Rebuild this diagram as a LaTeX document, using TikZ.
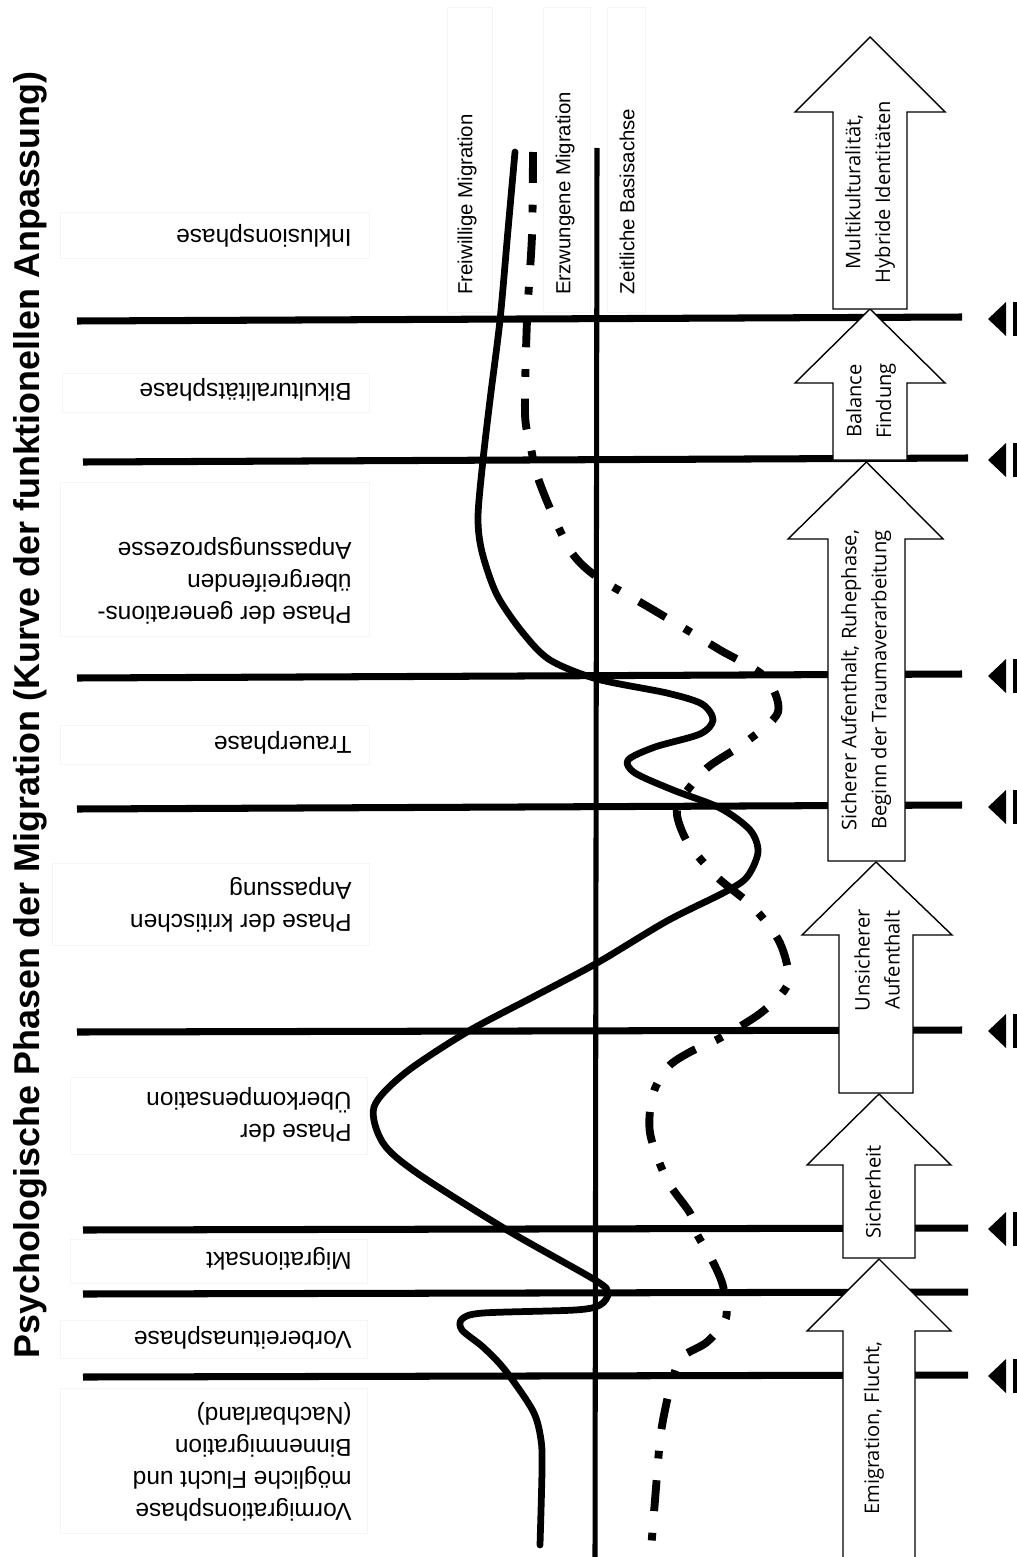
\documentclass[tikz,border=0pt]{standalone}
\usepackage{fontspec}
\setmainfont{Liberation Sans}
\newfontfamily\arrowfont{Open Sans}
\tikzset{
  divline/.style={line width=5pt},
  axisline/.style={line width=3.6pt},
  faintbox/.style={draw=black!4, line width=0.6pt},
  titletext/.style={rotate=90, inner sep=0pt, font=\bfseries\fontsize{25.5}{30}\selectfont},
  phasetext/.style={rotate=180, anchor=west, align=left, inner sep=0pt, font=\fontsize{17.4}{22.8}\selectfont},
  curvetext/.style={rotate=90, anchor=west, inner sep=0pt, font=\fontsize{14.5}{17}\selectfont},
  arrowtext/.style={rotate=90, align=center, inner sep=0pt, font=\arrowfont\fontsize{14.3}{21.3}\selectfont},
  blockarr/.style={draw, fill=white, line width=1pt, line join=miter},
  freecurve/.style={line width=4.8pt, line cap=round, line join=round},
  forcedcurve/.style={line width=5.6pt, dash pattern=on 22pt off 15.5pt on 5.5pt off 15.5pt},
  endmark/.style={fill=black}
}
\begin{document}
\begin{tikzpicture}[x=0.025cm, y=-0.025cm]
\useasboundingbox (0,0) rectangle (1017,1557);

% faint text frames
\foreach \xa/\ya/\xb/\yb in {60/212/369/258, 62/373/369/412, 60/482/369/636, 60/725/369/764,
    52/863/369/945, 70/1077/367/1154, 70/1239/367/1283, 60/1320/367/1358, 60/1388/367/1533,
    447/7/492/312, 543/7/590/312, 607/7/645/312}
  \draw[faintbox] (\xa,\ya) rectangle (\xb,\yb);

% title
\node[titletext] (title) at (30,715) {Psychologische Phasen der Migration (Kurve der funktionellen Anpassung)};

% phases
\node[phasetext] (inklusion) at (352,236) {Inklusionsphase};
\node[phasetext] (bikultur) at (352,390) {Bikulturalitätsphase};
\node[phasetext] (generation) at (352,581) {Phase der generations-\\übergreifenden\\Anpassungsprozesse};
\node[phasetext] (trauer) at (352,743) {Trauerphase};
\node[phasetext] (kritisch) at (352,905) {Phase der kritischen\\Anpassung};
\node[phasetext] (ueberkomp) at (352,1115) {Phase der\\Überkompensation};
\node[phasetext] (migakt) at (352,1259) {Migrationsakt};
\node[phasetext] (vorbereitung) at (352,1338) {Vorbereitunasphase};
\node[phasetext] (vormigration) at (352,1462) {Vormigrationsphase\\mögliche Flucht und\\Binnenmigration\\(Nachbarland)};

% phase borders
\foreach \xa/\ya/\xb/\yb in {77/321/962/317, 83/462/968/458, 77/678/962/674, 77/809/962/805,
    77/1032/962/1030, 83/1230/968/1228, 83/1294/968/1292, 83/1377/968/1375}
  \draw[divline] (\xa,\ya) -- (\xb,\yb);

% time axis
\draw[axisline] (597,148) -- (595,1560);

% voluntary migration
\draw[freecurve] plot[smooth] coordinates {(515,152) (508,230) (500,320) (490,400) (483,460)
  (478,517) (482,552) (497,595) (523,633) (550,660) (597,679) (667,693) (702,704) (713,720)
  (700,734) (655,747) (628,760) (635,773) (673,790) (720,808) (750,830) (758,852) (747,877)
  (725,892) (667,921) (597,963) (533,997) (467,1032) (405,1073) (374,1107) (383,1143)
  (417,1173) (507,1230) (595,1280) (608,1293) (600,1305) (575,1310) (483,1313) (462,1319)
  (462,1330) (483,1347) (505,1370) (533,1411) (541,1440) (542,1470) (540,1545)};

% forced migration
\draw[forcedcurve] plot[smooth] coordinates {(533,152) (532,235) (527,320) (525,413) (530,443)
  (537,475) (552,513) (572,553) (597,577) (645,605) (687,630) (720,650) (765,677) (778,712)
  (746,742) (707,768) (682,798) (677,815) (688,843) (717,877) (753,907) (780,943) (788,983)
  (762,1012) (720,1038) (690,1052) (668,1067) (653,1094) (650,1133) (667,1180) (690,1213)
  (697,1234) (712,1260) (723,1286) (726,1318) (707,1342) (682,1357) (672,1381) (665,1410)
  (660,1440) (655,1500) (650,1562)};

\node[curvetext] (freiwillig) at (467,295) {Freiwillige Migration};
\node[curvetext] (erzwungen) at (565,295) {Erzwungene Migration};
\node[curvetext] (basis) at (627,295) {Zeitliche Basisachse};

% block arrows
\foreach \sL/\sR/\hL/\hR/\yT/\yS/\yB in {843/915/807/951/1259/1331/1570, 843/915/807/951/1094/1165/1258,
    839/913/802/952/862/935/1093, 828/905/788/943/462/539/861, 833/907/795/945/309/383/460,
    833/907/795/945/37/112/309}
  \draw[blockarr] (\sL,\yB) -- (\sL,\yS) -- (\hL,\yS) -- ({(\sL+\sR)/2},\yT) -- (\hR,\yS)
    -- (\sR,\yS) -- (\sR,\yB) -- cycle;

\node[arrowtext] (emigration) at (874,1428) {Emigration, Flucht,};
\node[arrowtext] (sicherheit) at (873,1192) {Sicherheit};
\node[arrowtext] (unsicher) at (877,960) {Unsicherer\\Aufenthalt};
\node[arrowtext] (ruhephase) at (866,680) {Sicherer Aufenthalt, Ruhephase,\\Beginn der Traumaverarbeitung};
\node[arrowtext] (balance) at (871,401) {Balance\\Findung};
\node[arrowtext] (hybrid) at (870,192) {Multikulturalität,\\Hybride Identitäten};

% end marks
\foreach \y in {319,460,676,807,1031,1229,1376} {
  \fill[endmark] (1006,\y-17) -- (988,\y) -- (1006,\y+17) -- cycle;
  \fill[endmark] (1013,\y-17) rectangle (1022,\y+17);
}
\end{tikzpicture}
\end{document}
